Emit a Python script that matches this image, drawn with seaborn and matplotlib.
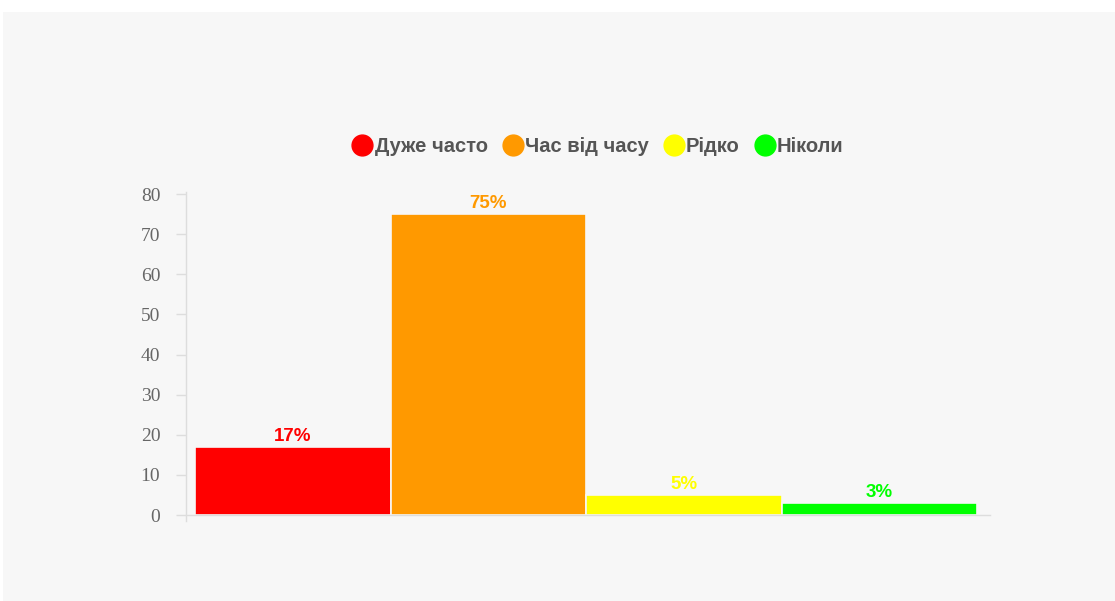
import matplotlib
matplotlib.use("Agg")
import matplotlib.pyplot as plt
from matplotlib.patches import Rectangle
from matplotlib.lines import Line2D
import seaborn as sns
import pandas as pd

categories = ["Дуже часто", "Час від часу", "Рідко", "Ніколи"]
values = [17, 75, 5, 3]
labels = ["17%", "75%", "5%", "3%"]
colors = ["#ff0000", "#ff9900", "#ffff00", "#00ff00"]
yticks = [0, 10, 20, 30, 40, 50, 60, 70, 80]

sns.set_theme(style="white")
plt.rcParams["font.family"] = ["Liberation Sans", "DejaVu Sans"]

W, H = 1115, 601
fig = plt.figure(figsize=(W / 100, H / 100), dpi=100, facecolor="white")

# light panel behind the chart
fig.patches.append(Rectangle((3 / W, 0), 1 - 3 / W, (H - 12) / H,
                             transform=fig.transFigure, facecolor="#f7f7f7",
                             edgecolor="none", zorder=-5))

ax = fig.add_axes([186 / W, (H - 515) / H, (990 - 186) / W, (515 - 192) / H])
ax.set_facecolor("none")
ax.set_zorder(2)

df = pd.DataFrame({"category": categories, "value": values})
sns.barplot(data=df, x="category", y="value", hue="category",
            palette=colors, saturation=1, width=1.0, dodge=False, legend=False,
            edgecolor="#f7f7f7", linewidth=1.2, ax=ax)

for cont, lab, col in zip(ax.containers, labels, colors):
    ax.bar_label(cont, labels=[lab], padding=1.5, color=col,
                 fontweight="bold", fontsize=13.5)

ax.set_xlim(-0.546, 3.566)
ax.set_ylim(0, 80.5)
ax.set_yticks(yticks)
ax.set_yticklabels([str(t) for t in yticks], family=["Liberation Serif", "DejaVu Serif"],
                   fontsize=14, color="#666666")
ax.set_xticks([])
ax.set_xlabel("")
ax.set_ylabel("")
ax.tick_params(axis="y", left=True, length=7.5, width=1, color="#dddddd", pad=11)

for side in ["top", "right"]:
    ax.spines[side].set_visible(False)
for side in ["left", "bottom"]:
    ax.spines[side].set_color("#dddddd")
    ax.spines[side].set_linewidth(1)
ax.spines["left"].set_bounds(-1.5, 80.5)

handles = [Line2D([0], [0], marker="o", linestyle="none", markersize=15,
                  markerfacecolor=c, markeredgecolor=c) for c in colors]
leg = fig.legend(handles, categories, loc="center", ncol=4,
                 bbox_to_anchor=(597 / W, (H - 147) / H), frameon=False,
                 handletextpad=0.0, columnspacing=0.65, handlelength=1.2,
                 prop={"weight": "bold", "size": 14.5})
leg.set_zorder(3)
for t in leg.get_texts():
    t.set_color("#555555")

fig.savefig("out.png", dpi=100, facecolor="white")
